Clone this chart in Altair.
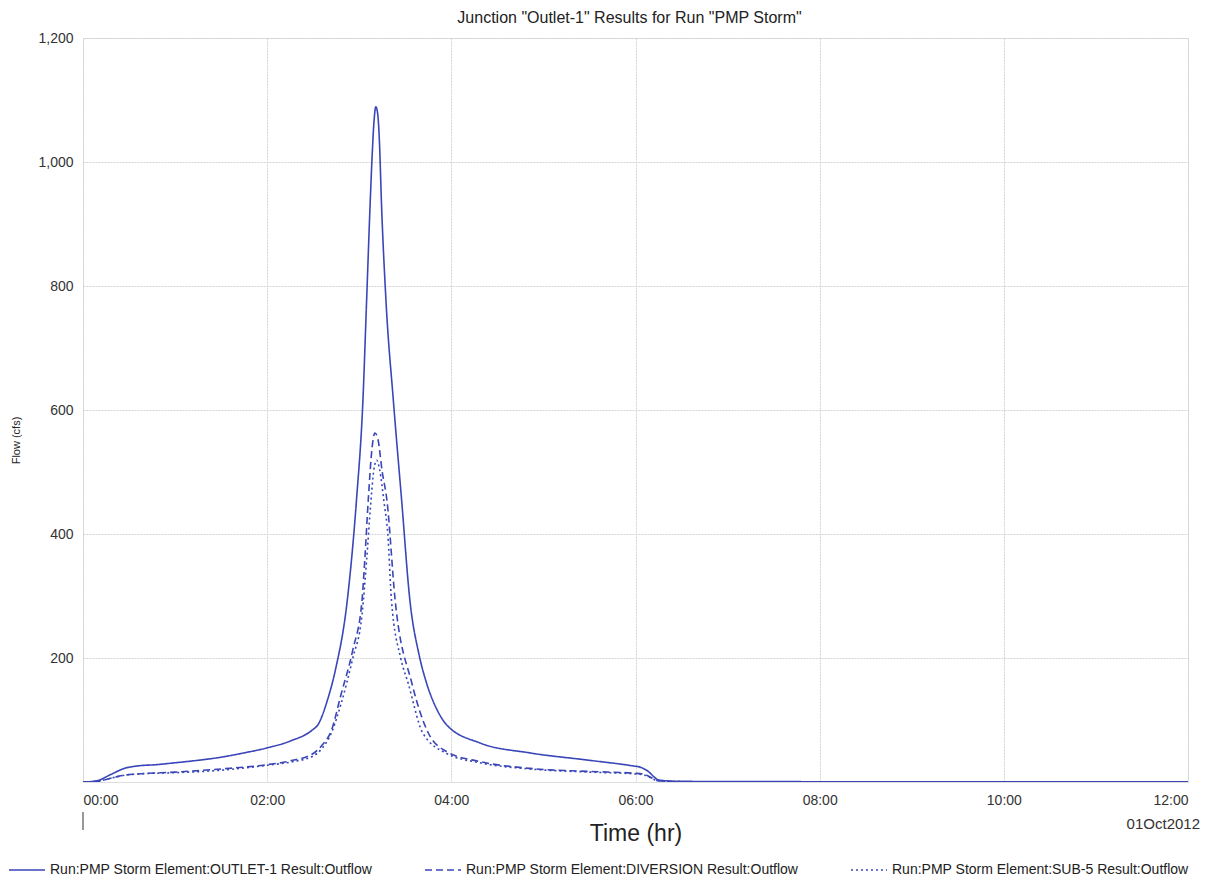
import altair as alt
import pandas as pd

# ---- data (hours, cfs) ----
outlet_t = [0, 0.15, 0.3, 0.45, 0.6, 0.8, 1.0, 1.25, 1.5, 1.75, 2.0, 2.25, 2.5, 2.55, 2.65, 2.74, 2.87, 2.97, 3.04, 3.08, 3.12, 3.14, 3.16, 3.18, 3.20, 3.22, 3.24, 3.29, 3.37, 3.46, 3.55, 3.65, 3.73, 3.85, 3.95, 4.31, 4.85, 5.5, 5.97, 6.05, 6.12, 6.26, 6.5, 8.0, 12.0]
outlet_q = [0, 2, 12, 22, 26, 28, 31, 35, 40, 47, 55, 66, 85, 92, 130, 180, 293, 455, 616, 777, 939, 1010, 1065, 1089, 1078, 1030, 939, 777, 616, 455, 293, 205, 160, 115, 92, 63, 47, 35, 26, 24, 19, 3, 1, 0.5, 0.3]

diversion_t = [0, 0.15, 0.3, 0.45, 0.6, 1.0, 1.5, 2.0, 2.25, 2.5, 2.6, 2.7, 2.8, 2.93, 3.03, 3.06, 3.10, 3.14, 3.17, 3.20, 3.25, 3.30, 3.39, 3.57, 3.75, 3.95, 4.31, 4.85, 5.5, 6.0, 6.1, 6.25, 6.5, 8.0, 12.0]
diversion_q = [0, 1, 6, 11, 13, 16, 21, 28, 34, 46, 60, 84, 140, 213, 293, 358, 460, 540, 563, 555, 500, 455, 293, 160, 79, 49, 33, 22, 17, 14, 12, 2, 0.5, 0.3, 0.2]

sub5_t = [0, 0.15, 0.3, 0.45, 0.6, 1.0, 1.5, 2.0, 2.25, 2.5, 2.6, 2.7, 2.8, 2.93, 3.03, 3.08, 3.12, 3.16, 3.19, 3.22, 3.27, 3.31, 3.35, 3.45, 3.53, 3.69, 3.95, 4.31, 4.85, 5.5, 6.0, 6.1, 6.25, 6.5, 8.0, 12.0]
sub5_q = [0, 1, 6, 11, 13, 15, 19, 27, 32, 42, 55, 80, 125, 200, 270, 358, 440, 505, 519, 505, 450, 400, 293, 200, 160, 79, 46, 31, 21, 16, 13, 11, 2, 0.5, 0.3, 0.2]

series_names = [
    "Run:PMP Storm Element:OUTLET-1 Result:Outflow",
    "Run:PMP Storm Element:DIVERSION Result:Outflow",
    "Run:PMP Storm Element:SUB-5 Result:Outflow",
]
x_ticks = [0, 2, 4, 6, 8, 10, 12]
y_ticks = [200, 400, 600, 800, 1000, 1200]

rows = []
for name, ts, qs in zip(series_names, [outlet_t, diversion_t, sub5_t], [outlet_q, diversion_q, sub5_q]):
    for i, (t, q) in enumerate(zip(ts, qs)):
        rows.append({"series": name, "t": t, "q": q, "i": i})
df = pd.DataFrame(rows)

BLUE = "#3a46b8"
FONT = "Liberation Sans"

lines = alt.Chart(df).mark_line(strokeWidth=1.6, color=BLUE, clip=True, interpolate="monotone").encode(
    x=alt.X("t:Q", scale=alt.Scale(domain=[0, 12], nice=False),
            axis=alt.Axis(values=x_ticks, labelExpr="(datum.value < 10 ? '0' : '') + datum.value + ':00'",
                          title="Time (hr)", titleFontSize=23, titleFontWeight="normal", titleFont=FONT,
                          titleBaseline="alphabetic", titleY=58, titleColor="#222",
                          labelFontSize=14, labelFont=FONT, labelColor="#333", labelPadding=11,
                          ticks=False, domain=False, grid=True, gridColor="#d4d4d4", gridDash=[2, 1])),
    y=alt.Y("q:Q", scale=alt.Scale(domain=[0, 1200], nice=False),
            axis=alt.Axis(values=y_ticks, format=",.0f", title="Flow (cfs)", titleFontSize=11,
                          titleFontWeight="normal", titleFont=FONT, titleX=-62, titleY=402,
                          titleColor="#222",
                          labelFontSize=14, labelFont=FONT, labelColor="#333", labelPadding=10,
                          ticks=False, domain=False, grid=True, gridColor="#d4d4d4", gridDash=[2, 1])),
    strokeDash=alt.StrokeDash("series:N",
        scale=alt.Scale(domain=series_names, range=[[1, 0], [7, 4], [2, 3]]),
        legend=alt.Legend(title=None, orient="none", legendX=-75, legendY=813, direction="horizontal",
                          symbolType="stroke", symbolSize=1300, symbolStrokeWidth=1.5,
                          symbolStrokeColor=BLUE, labelFontSize=14, labelFont=FONT, labelColor="#222",
                          labelLimit=500, columnPadding=48, symbolOffset=0)),
    order="i:Q",
)

date_text = alt.Chart(pd.DataFrame({"s": ["01Oct2012"]})).mark_text(
    align="right", baseline="middle", fontSize=15, font=FONT, color="#333"
).encode(text="s:N", x=alt.value(1117), y=alt.value(786))

origin_tick = alt.Chart(pd.DataFrame({"t": [0]})).mark_rule(color="#333", strokeWidth=1).encode(
    x=alt.X("t:Q"), y=alt.value(774), y2=alt.value(792)
)

chart = alt.layer(lines, origin_tick, date_text).properties(
    width=1105, height=744,
    title=alt.TitleParams('Junction "Outlet-1" Results for Run "PMP Storm"', fontSize=16,
                          font=FONT, fontWeight="normal", color="#222", anchor="middle",
                          baseline="alphabetic", offset=12, dx=-6, dy=20),
    autosize="none",
    padding={"left": 83, "top": 38, "right": 27, "bottom": 101},
).configure_view(stroke="#666", strokeWidth=1.2).configure(background="white")

chart.save("out.html", embed_options={"renderer": "svg", "actions": False})
